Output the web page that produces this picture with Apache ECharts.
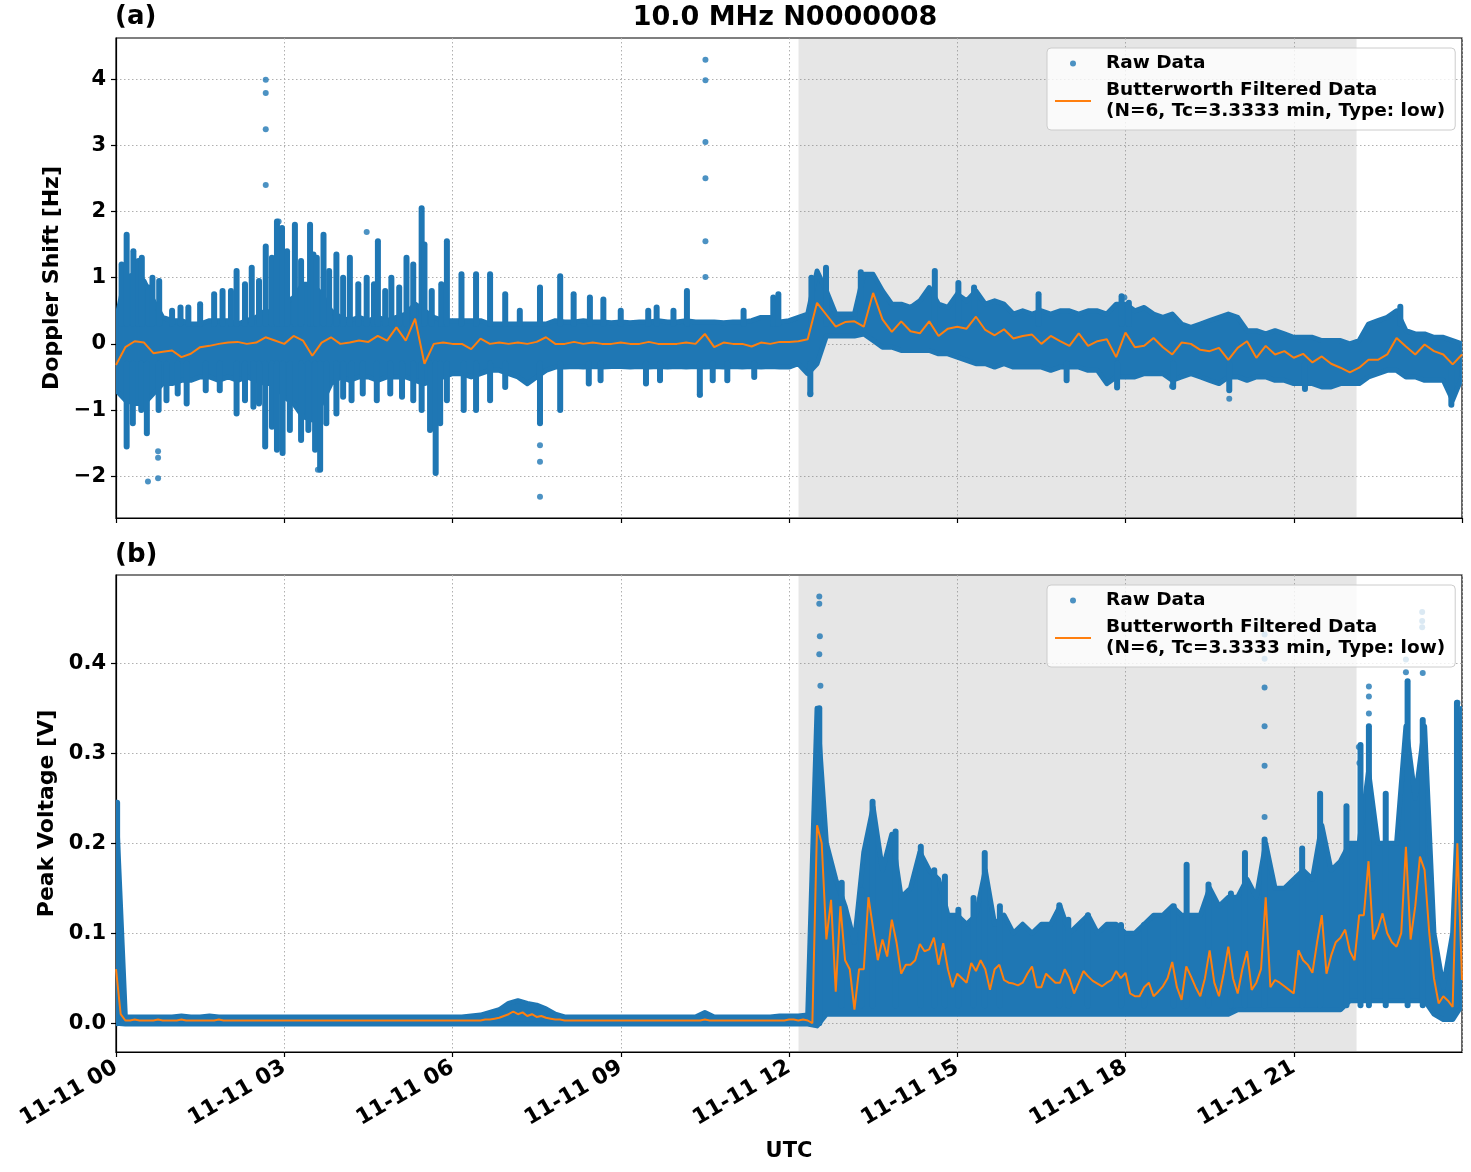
<!DOCTYPE html>
<html>
<head>
<meta charset="utf-8">
<title>10.0 MHz N0000008</title>
<script src="https://cdn.jsdelivr.net/npm/echarts@6/dist/echarts.min.js"></script>
<style>
  html, body { margin: 0; padding: 0; background: #fff; }
  #chart { width: 1471px; height: 1172px; }
</style>
</head>
<body>
<div id="chart"></div>
<script>
// binned arrays start at 00:00; envelopes use 10-minute bins, volFilt uses 5-minute bins
const BAND_STEP_H = 1 / 6;
const VOLFILT_STEP_H = 1 / 12;
const dopTicks = [-2, -1, 0, 1, 2, 3, 4];
const volTicks = [0, 0.1, 0.2, 0.3, 0.4];
const shadeSpan = [12.17, 22.12];

const legendRaw = 'Raw Data';
const legendFilt = 'Butterworth Filtered Data\n(N=6, Tc=3.3333 min, Type: low)';

// (a) Doppler shift: dense envelope of raw dots (upper / lower edge per bin)
const dopHi = [
  0.35, 1.0, 1.05, 0.95, 0.65, 0.4,
  0.35, 0.35, 0.3, 0.3, 0.35, 0.35,
  0.35, 0.3, 0.35, 0.4, 0.5, 0.45,
  0.6, 0.7, 0.9, 0.9, 0.75, 0.5,
  0.4, 0.35, 0.4, 0.35, 0.4, 0.35,
  0.4, 0.45, 0.6, 0.5, 0.4, 0.35,
  0.35, 0.35, 0.35, 0.35, 0.3, 0.3,
  0.3, 0.3, 0.3, 0.3, 0.3, 0.35,
  0.33, 0.33, 0.35, 0.33, 0.33, 0.32,
  0.33, 0.32, 0.33, 0.33, 0.35, 0.33,
  0.33, 0.35, 0.33, 0.33, 0.33, 0.32,
  0.33, 0.33, 0.35, 0.4, 0.4, 0.33,
  0.35, 0.4, 0.45, 1.1, 0.8, 0.45,
  0.45, 0.45, 1.05, 1.05, 0.8, 0.6,
  0.6, 0.55, 0.65, 0.85, 0.6, 0.55,
  0.75, 0.65, 0.8, 0.6, 0.65, 0.6,
  0.45, 0.5, 0.45, 0.5, 0.45, 0.5,
  0.5, 0.45, 0.5, 0.5, 0.45, 0.6,
  0.6, 0.5, 0.55, 0.45, 0.4, 0.45,
  0.3, 0.25, 0.3, 0.35, 0.4, 0.45,
  0.4, 0.2, 0.2, 0.15, 0.2, 0.15,
  0.1, 0.1, 0.1, 0.05, 0.05, 0.05,
  0.0, 0.05, 0.3, 0.35, 0.4, 0.5,
  0.2, 0.15, 0.15, 0.1, 0.1, 0.05,
  0.0
];
const dopLo = [
  -0.7, -0.85, -0.9, -0.9, -0.75, -0.6,
  -0.6, -0.55, -0.55, -0.5, -0.5, -0.55,
  -0.5, -0.55, -0.5, -0.55, -0.6, -0.6,
  -0.8, -0.9, -1.1, -1.15, -0.9, -0.6,
  -0.5, -0.55, -0.5, -0.5, -0.55, -0.5,
  -0.5, -0.5, -0.55, -0.6, -0.55, -0.5,
  -0.45, -0.45, -0.5, -0.45, -0.4, -0.4,
  -0.45, -0.5, -0.6, -0.5, -0.4, -0.35,
  -0.35, -0.34, -0.35, -0.34, -0.35, -0.34,
  -0.34, -0.35, -0.34, -0.35, -0.34, -0.35,
  -0.34, -0.35, -0.34, -0.35, -0.34, -0.35,
  -0.34, -0.35, -0.34, -0.35, -0.34, -0.35,
  -0.35, -0.3, -0.45, -0.3, 0.12, 0.12,
  0.12, 0.12, 0.15, 0.05, -0.05, -0.05,
  -0.1, -0.1, -0.1, -0.1, -0.15, -0.15,
  -0.2, -0.25, -0.3, -0.3, -0.35, -0.3,
  -0.35, -0.35, -0.35, -0.35, -0.4, -0.35,
  -0.35, -0.35, -0.4, -0.4, -0.6, -0.5,
  -0.5, -0.5, -0.45, -0.45, -0.45, -0.55,
  -0.5, -0.45, -0.5, -0.55, -0.6, -0.5,
  -0.5, -0.55, -0.5, -0.5, -0.55, -0.55,
  -0.6, -0.6, -0.6, -0.65, -0.65, -0.6,
  -0.6, -0.6, -0.5, -0.45, -0.4, -0.4,
  -0.5, -0.5, -0.55, -0.55, -0.55, -0.85,
  -0.5
];
const dopFilt = [
  -0.32, -0.05, 0.04, 0.02, -0.14, -0.12,
  -0.1, -0.2, -0.15, -0.05, -0.03, 0.0,
  0.02, 0.03, 0.0, 0.02, 0.1, 0.05,
  0.0, 0.12, 0.05, -0.18, 0.02, 0.1,
  0.0, 0.02, 0.05, 0.03, 0.12, 0.05,
  0.25, 0.05, 0.38, -0.3, 0.0, 0.02,
  0.0, 0.0, -0.08, 0.08, 0.0, 0.02,
  0.0, 0.02, 0.0, 0.03, 0.1, 0.0,
  0.0, 0.03, 0.0, 0.02, 0.0, 0.0,
  0.02, 0.0, 0.0, 0.03, 0.0, 0.0,
  0.0, 0.02, 0.0, 0.15, -0.05, 0.02,
  0.0, 0.0, -0.04, 0.02, 0.0, 0.03,
  0.03, 0.04, 0.07, 0.62, 0.44, 0.26,
  0.33, 0.34, 0.26, 0.77, 0.37, 0.18,
  0.34, 0.19, 0.16, 0.34, 0.12, 0.23,
  0.26, 0.23, 0.41, 0.21, 0.13, 0.22,
  0.08, 0.12, 0.14, 0.0, 0.12, 0.04,
  -0.03, 0.16, -0.03, 0.04, 0.07, -0.2,
  0.17, -0.05, -0.03, 0.09, -0.05, -0.16,
  0.02, 0.0, -0.09, -0.11, -0.06, -0.24,
  -0.06, 0.04, -0.21, -0.03, -0.16, -0.11,
  -0.21, -0.15, -0.28, -0.19, -0.3, -0.36,
  -0.43, -0.36, -0.24, -0.24, -0.16, 0.09,
  -0.04, -0.16, -0.01, -0.11, -0.16, -0.31,
  -0.16
];
// vertical columns of raw dots sticking out of the envelope: [hour, low, high]
const dopStripes = [
  [0.1, 0.3, 1.2], [0.19, 0.3, 1.65], [0.31, 0.3, 1.4], [0.4, 0.3, 1.25], [0.46, 0.3, 1.3],
  [0.58, 0.3, 0.85], [0.65, 0.3, 1.0], [0.77, 0.3, 0.95], [1.0, 0.3, 0.5], [1.15, 0.3, 0.55],
  [1.29, 0.3, 0.55], [1.5, 0.3, 0.6], [1.75, 0.3, 0.75], [1.9, 0.3, 0.8], [2.05, 0.3, 0.8],
  [2.15, 0.3, 1.1], [2.3, 0.3, 0.9], [2.42, 0.3, 1.15], [2.55, 0.3, 0.95], [2.67, 0.3, 1.47],
  [2.78, 0.3, 1.3], [2.87, 0.3, 1.85], [2.96, 0.3, 1.75], [3.05, 0.3, 1.4], [3.19, 0.3, 1.8],
  [3.3, 0.3, 1.25], [3.46, 0.3, 1.8], [3.52, 0.3, 1.35], [3.58, 0.3, 1.3], [3.7, 0.3, 1.65],
  [3.8, 0.3, 1.1], [3.93, 0.3, 1.35], [4.05, 0.3, 1.0], [4.17, 0.3, 1.3], [4.32, 0.3, 0.9],
  [4.47, 0.3, 1.0], [4.6, 0.3, 0.9], [4.67, 0.3, 1.55], [4.8, 0.3, 0.8], [4.91, 0.3, 1.0],
  [5.05, 0.3, 0.85], [5.18, 0.3, 1.3], [5.3, 0.3, 1.2], [5.45, 0.3, 2.05], [5.5, 0.3, 1.5],
  [5.63, 0.3, 0.8], [5.8, 0.3, 0.9], [5.9, 0.3, 1.55], [6.16, 0.3, 1.05], [6.42, 0.3, 1.05],
  [6.67, 0.3, 1.05], [6.94, 0.3, 0.75], [7.2, 0.3, 0.5], [7.56, 0.3, 0.85], [7.92, 0.3, 1.02],
  [8.16, 0.3, 0.75], [8.45, 0.3, 0.7], [8.69, 0.3, 0.67], [9.0, 0.3, 0.5], [9.49, 0.3, 0.5],
  [9.64, 0.3, 0.55], [9.94, 0.3, 0.5], [10.18, 0.3, 0.8], [11.19, 0.3, 0.5], [11.72, 0.3, 0.7],
  [11.81, 0.3, 0.75], [12.4, 0.3, 1.0], [12.66, 0.3, 1.15], [13.28, 0.3, 1.08], [14.6, 0.3, 1.1],
  [15.02, 0.3, 0.92], [15.3, 0.3, 0.85], [16.45, 0.3, 0.75], [17.93, 0.3, 0.72], [18.06, 0.3, 0.62],
  [22.9, 0.3, 0.56],
  [0.19, -1.55, -0.3], [0.3, -1.2, -0.3], [0.45, -1.0, -0.3], [0.55, -1.35, -0.3], [0.76, -1.0, -0.3],
  [0.9, -0.85, -0.3], [1.1, -0.75, -0.3], [1.26, -0.9, -0.3], [1.6, -0.7, -0.3], [1.85, -0.7, -0.3],
  [2.15, -1.05, -0.3], [2.3, -0.85, -0.3], [2.45, -0.95, -0.3], [2.55, -0.9, -0.3], [2.66, -1.55, -0.3],
  [2.78, -1.25, -0.3], [2.87, -1.6, -0.3], [2.97, -1.65, -0.3], [3.1, -1.3, -0.3], [3.3, -1.45, -0.3],
  [3.43, -1.3, -0.3], [3.55, -1.6, -0.3], [3.64, -1.9, -0.3], [3.75, -1.2, -0.3], [3.93, -1.05, -0.3],
  [4.05, -0.8, -0.3], [4.2, -0.85, -0.3], [4.4, -0.75, -0.3], [4.65, -0.85, -0.3], [4.89, -0.75, -0.3],
  [5.1, -0.8, -0.3], [5.3, -0.85, -0.3], [5.45, -1.0, -0.3], [5.6, -1.3, -0.3], [5.7, -1.95, -0.3],
  [5.78, -1.2, -0.3], [5.9, -0.85, -0.3], [6.2, -1.0, -0.3], [6.42, -1.0, -0.3], [6.67, -0.85, -0.3],
  [6.94, -0.65, -0.3], [7.56, -1.2, -0.3], [7.92, -1.0, -0.3], [8.43, -0.6, -0.3], [8.64, -0.55, -0.3],
  [9.45, -0.6, -0.3], [9.7, -0.55, -0.3], [10.41, -0.77, -0.3], [10.64, -0.55, -0.3], [10.9, -0.55, -0.3],
  [11.38, -0.5, -0.3], [12.38, -0.76, -0.3], [16.95, -0.55, -0.3], [17.85, -0.66, -0.3], [18.85, -0.65, -0.3],
  [19.85, -0.7, -0.3], [21.2, -0.68, -0.3], [23.81, -0.92, -0.3]
];
// isolated raw dots: [hour, value]
const dopOutliers = [
  [2.67, 3.99], [2.67, 3.79], [2.67, 3.24], [2.67, 2.40],
  [10.51, 4.29], [10.51, 3.98], [10.51, 3.05], [10.51, 2.50], [10.51, 1.55], [10.51, 1.01],
  [0.57, -2.08], [0.75, -2.03], [0.75, -1.72], [0.75, -1.62],
  [7.56, -2.31], [7.56, -1.78], [7.56, -1.53], [4.47, 1.69], [2.9, 1.85], [3.6, -1.9],
  [10.41, -0.77], [12.38, -0.75], [17.98, 0.7], [18.83, -0.64], [19.85, -0.83]
];

// (b) peak voltage
const volHi = [
  0.245, 0.007, 0.007, 0.007, 0.007, 0.007,
  0.007, 0.008, 0.007, 0.007, 0.008, 0.007,
  0.007, 0.007, 0.007, 0.007, 0.007, 0.007,
  0.007, 0.007, 0.007, 0.007, 0.007, 0.007,
  0.007, 0.007, 0.007, 0.007, 0.007, 0.007,
  0.007, 0.007, 0.007, 0.007, 0.007, 0.007,
  0.007, 0.007, 0.008, 0.009, 0.012, 0.015,
  0.022, 0.025, 0.022, 0.02, 0.016, 0.01,
  0.007, 0.007, 0.007, 0.007, 0.007, 0.007,
  0.007, 0.007, 0.007, 0.007, 0.007, 0.007,
  0.007, 0.007, 0.007, 0.012, 0.007, 0.007,
  0.007, 0.007, 0.007, 0.007, 0.007, 0.008,
  0.008, 0.008, 0.009, 0.35, 0.2, 0.16,
  0.13, 0.09, 0.19, 0.24, 0.17, 0.21,
  0.14, 0.15, 0.19, 0.17, 0.16, 0.12,
  0.12, 0.11, 0.12, 0.17, 0.11, 0.12,
  0.1, 0.11, 0.1, 0.11, 0.11, 0.13,
  0.1, 0.11, 0.12, 0.1, 0.11, 0.11,
  0.1, 0.1, 0.11, 0.12, 0.12, 0.13,
  0.12, 0.12, 0.12, 0.15, 0.13, 0.14,
  0.14, 0.16, 0.14, 0.2, 0.15, 0.15,
  0.16, 0.17, 0.16, 0.22, 0.17, 0.18,
  0.2, 0.2, 0.28, 0.2, 0.2, 0.2,
  0.33, 0.25, 0.33, 0.1, 0.04, 0.1,
  0.35
];
const volLo = [
  0.0, -0.001, -0.001, -0.001, -0.001, -0.001,
  -0.001, -0.001, -0.001, -0.001, -0.001, -0.001,
  -0.001, -0.001, -0.001, -0.001, -0.001, -0.001,
  -0.001, -0.001, -0.001, -0.001, -0.001, -0.001,
  -0.001, -0.001, -0.001, -0.001, -0.001, -0.001,
  -0.001, -0.001, -0.001, -0.001, -0.001, -0.001,
  -0.001, -0.001, -0.001, -0.001, -0.001, -0.001,
  -0.001, -0.001, -0.001, -0.001, -0.001, -0.001,
  -0.001, -0.001, -0.001, -0.001, -0.001, -0.001,
  -0.001, -0.001, -0.001, -0.001, -0.001, -0.001,
  -0.001, -0.001, -0.001, -0.001, -0.001, -0.001,
  -0.001, -0.001, -0.001, -0.001, -0.001, -0.001,
  -0.001, -0.001, -0.001, -0.003, 0.01, 0.01,
  0.01, 0.01, 0.01, 0.01, 0.01, 0.01,
  0.01, 0.01, 0.01, 0.01, 0.01, 0.01,
  0.01, 0.01, 0.01, 0.01, 0.01, 0.01,
  0.01, 0.01, 0.01, 0.01, 0.01, 0.01,
  0.01, 0.01, 0.01, 0.01, 0.01, 0.01,
  0.01, 0.01, 0.01, 0.01, 0.01, 0.01,
  0.01, 0.01, 0.01, 0.01, 0.01, 0.01,
  0.015, 0.015, 0.015, 0.015, 0.015, 0.015,
  0.015, 0.015, 0.015, 0.015, 0.015, 0.015,
  0.025, 0.025, 0.025, 0.025, 0.025, 0.025,
  0.025, 0.025, 0.025, 0.01, 0.004, 0.004,
  0.02
];
// filtered peak voltage, 5-minute bins (one row per hour)
const volFilt = [
  0.06, 0.01, 0.003, 0.003, 0.004, 0.003, 0.003, 0.003, 0.003, 0.004, 0.003, 0.003,
  0.003, 0.003, 0.004, 0.003, 0.003, 0.003, 0.003, 0.003, 0.003, 0.003, 0.004, 0.003,
  0.003, 0.003, 0.003, 0.003, 0.003, 0.003, 0.003, 0.003, 0.003, 0.003, 0.003, 0.003,
  0.003, 0.003, 0.003, 0.003, 0.003, 0.003, 0.003, 0.003, 0.003, 0.003, 0.003, 0.003,
  0.003, 0.003, 0.003, 0.003, 0.003, 0.003, 0.003, 0.003, 0.003, 0.003, 0.003, 0.003,
  0.003, 0.003, 0.003, 0.003, 0.003, 0.003, 0.003, 0.003, 0.003, 0.003, 0.003, 0.003,
  0.003, 0.003, 0.003, 0.003, 0.003, 0.003, 0.003, 0.004, 0.004, 0.005, 0.006, 0.008,
  0.01, 0.013, 0.01, 0.012, 0.008, 0.01, 0.007, 0.008, 0.006, 0.005, 0.004, 0.004,
  0.003, 0.003, 0.003, 0.003, 0.003, 0.003, 0.003, 0.003, 0.003, 0.003, 0.003, 0.003,
  0.003, 0.003, 0.003, 0.003, 0.003, 0.003, 0.003, 0.003, 0.003, 0.003, 0.003, 0.003,
  0.003, 0.003, 0.003, 0.003, 0.003, 0.003, 0.004, 0.003, 0.003, 0.003, 0.003, 0.003,
  0.003, 0.003, 0.003, 0.003, 0.003, 0.003, 0.003, 0.003, 0.003, 0.003, 0.003, 0.003,
  0.004, 0.004, 0.003, 0.004, 0.003, 0.0, 0.22, 0.2, 0.093, 0.137, 0.035, 0.13,
  0.07, 0.06, 0.015, 0.06, 0.06, 0.14, 0.105, 0.07, 0.093, 0.074, 0.115, 0.09,
  0.055, 0.065, 0.065, 0.07, 0.088, 0.08, 0.082, 0.095, 0.065, 0.089, 0.06, 0.04,
  0.055, 0.05, 0.045, 0.067, 0.058, 0.07, 0.06, 0.037, 0.06, 0.065, 0.048, 0.045,
  0.044, 0.042, 0.045, 0.055, 0.063, 0.04, 0.04, 0.055, 0.05, 0.045, 0.045, 0.06,
  0.05, 0.033, 0.045, 0.058, 0.052, 0.047, 0.044, 0.041, 0.045, 0.048, 0.058, 0.05,
  0.056, 0.033, 0.03, 0.03, 0.04, 0.045, 0.03, 0.035, 0.041, 0.05, 0.068, 0.04,
  0.026, 0.063, 0.052, 0.04, 0.03, 0.05, 0.081, 0.045, 0.03, 0.055, 0.085, 0.05,
  0.033, 0.06, 0.08, 0.037, 0.045, 0.06, 0.14, 0.04, 0.048, 0.045, 0.041, 0.037,
  0.033, 0.081, 0.07, 0.065, 0.056, 0.09, 0.12, 0.055, 0.075, 0.09, 0.095, 0.104,
  0.08, 0.07, 0.12, 0.12, 0.18, 0.093, 0.105, 0.122, 0.1, 0.09, 0.085, 0.1,
  0.196, 0.093, 0.13, 0.185, 0.17, 0.1, 0.05, 0.022, 0.03, 0.025, 0.018, 0.2,
  0.048
];
const volStripes = [
  [0.02, 0.0, 0.245], [12.54, 0.0, 0.35],
  [12.94, 0.02, 0.156], [13.29, 0.02, 0.148], [13.49, 0.02, 0.246], [13.9, 0.02, 0.213],
  [14.35, 0.02, 0.196], [14.59, 0.02, 0.17], [14.78, 0.02, 0.163], [15.02, 0.02, 0.126],
  [15.29, 0.02, 0.139], [15.49, 0.02, 0.189], [15.76, 0.02, 0.13], [16.82, 0.02, 0.131],
  [16.98, 0.02, 0.115], [17.33, 0.02, 0.12], [17.92, 0.02, 0.109], [18.33, 0.02, 0.109],
  [18.86, 0.02, 0.13], [19.09, 0.02, 0.176], [19.48, 0.02, 0.154], [19.88, 0.02, 0.144],
  [20.13, 0.02, 0.189], [20.48, 0.02, 0.204], [21.15, 0.02, 0.194], [21.47, 0.02, 0.255],
  [21.94, 0.02, 0.241], [22.19, 0.02, 0.309], [22.34, 0.02, 0.33], [22.64, 0.02, 0.255],
  [23.03, 0.02, 0.38], [23.3, 0.02, 0.337], [23.91, 0.02, 0.356]
];
const volOutliers = [
  [12.54, 0.474], [12.54, 0.466], [12.55, 0.43], [12.54, 0.41], [12.56, 0.375],
  [20.48, 0.229], [20.48, 0.286], [20.48, 0.33], [20.48, 0.373], [20.48, 0.405], [20.48, 0.432],
  [22.34, 0.344], [22.34, 0.363], [22.34, 0.374], [22.16, 0.307], [22.17, 0.289],
  [23.0, 0.404], [23.0, 0.39], [23.29, 0.457], [23.29, 0.447], [23.29, 0.44], [23.3, 0.389],
  [23.92, 0.356]
];

const FONT = 'DejaVu Sans';
const RAW = '#1f77b4';
const FILT = '#ff7f0e';

const bandTimes = dopHi.map((_, i) => i * BAND_STEP_H);
const pairs = (ys, step) => ys.map((v, i) => [i * step, v]);
const fmtNum = (v) => String(v).replace('-', '\u2212');

function bandItem(hi, lo) {
  return function (params, api) {
    const pts = [];
    bandTimes.forEach((t, i) => pts.push(api.coord([t, hi[i]])));
    for (let i = bandTimes.length - 1; i >= 0; i--) pts.push(api.coord([bandTimes[i], lo[i]]));
    const cs = params.coordSys;
    return {
      type: 'polygon',
      shape: { points: pts },
      style: { fill: RAW, stroke: RAW, lineWidth: 5, lineJoin: 'round' },
      clipPath: { type: 'rect', shape: { x: cs.x, y: cs.y, width: cs.width, height: cs.height } }
    };
  };
}

function stripeItem(params, api) {
  const top = api.coord([api.value(0), api.value(2)]);
  const bot = api.coord([api.value(0), api.value(1)]);
  const cs = params.coordSys;
  return {
    type: 'rect',
    shape: { x: top[0] - 3, y: top[1] - 3, width: 6, height: bot[1] - top[1] + 6, r: 3 },
    style: { fill: RAW },
    clipPath: { type: 'rect', shape: { x: cs.x, y: cs.y, width: cs.width, height: cs.height } }
  };
}

const tickStyle = { show: true, length: 5, inside: false, lineStyle: { color: '#000', width: 1.2 } };
const gridLine = { show: true, lineStyle: { color: '#b0b0b0', type: [1.5, 2.5], width: 1 } };
const nameFont = { fontFamily: FONT, fontWeight: 'bold', fontSize: 22, color: '#000' };

function xAxisFor(gridIndex, showLabels) {
  return {
    type: 'value', gridIndex, min: 0, max: 24, interval: 3,
    axisLine: { show: true, onZero: false, lineStyle: { color: '#000', width: 1.2 } },
    axisTick: tickStyle,
    splitLine: gridLine,
    axisLabel: showLabels ? {
      fontFamily: FONT, fontWeight: 'bold', fontSize: 22, color: '#000',
      rotate: 30, margin: 14, showMaxLabel: false,
      formatter: (v) => '11-11 ' + String(v).padStart(2, '0')
    } : { show: false },
    name: showLabels ? 'UTC' : '',
    nameLocation: 'middle', nameGap: 89,
    nameTextStyle: { ...nameFont, fontSize: 21 }
  };
}

function yAxisFor(gridIndex, min, max, ticks, name, gap, digits) {
  return {
    type: 'value', gridIndex, min, max,
    axisLine: { show: true, onZero: false, lineStyle: { color: '#000', width: 1.2 } },
    axisTick: { ...tickStyle, customValues: ticks },
    splitLine: gridLine,
    axisLabel: {
      fontFamily: FONT, fontWeight: 'bold', fontSize: 21, color: '#000',
      margin: 10, customValues: ticks,
      formatter: (v) => fmtNum(digits ? v.toFixed(digits) : v)
    },
    name, nameLocation: 'middle', nameGap: gap,
    nameTextStyle: nameFont
  };
}

function panelSeries(idx, hi, lo, filtPairs, stripes, outliers) {
  return [
    {
      type: 'line', name: 'shade' + idx, xAxisIndex: idx, yAxisIndex: idx, data: [], z: 1,
      markArea: {
        silent: true,
        itemStyle: { color: 'rgba(128,128,128,0.2)' },
        data: [[{ xAxis: shadeSpan[0] }, { xAxis: shadeSpan[1] }]]
      }
    },
    {
      type: 'custom', name: 'band' + idx, xAxisIndex: idx, yAxisIndex: idx, z: 2,
      data: [[12, 0]], renderItem: bandItem(hi, lo)
    },
    {
      type: 'custom', name: 'stripes' + idx, xAxisIndex: idx, yAxisIndex: idx, z: 2,
      data: stripes, encode: { x: 0, y: [1, 2] }, renderItem: stripeItem
    },
    {
      type: 'scatter', name: legendRaw, xAxisIndex: idx, yAxisIndex: idx, z: 3,
      data: outliers, symbolSize: 6, itemStyle: { color: RAW }
    },
    {
      type: 'line', name: legendFilt, xAxisIndex: idx, yAxisIndex: idx, z: 4,
      data: filtPairs, symbol: 'none', showSymbol: false,
      lineStyle: { color: FILT, width: 2 }, itemStyle: { color: FILT }
    }
  ];
}

function legendAt(top) {
  return {
    orient: 'vertical', left: 1047, top,
    data: [
      { name: legendRaw, icon: 'circle' },
      { name: legendFilt, icon: 'path://M0,0H36V2H0Z' }
    ],
    itemWidth: 36, itemHeight: 6, itemGap: 6,
    padding: [5, 10, 8, 8],
    backgroundColor: 'rgba(255,255,255,0.8)', borderColor: '#cccccc', borderWidth: 1, borderRadius: 4,
    selectedMode: false,
    textStyle: { fontFamily: FONT, fontWeight: 'bold', fontSize: 18.5, color: '#000', lineHeight: 21, padding: [0, 0, 0, 10] }
  };
}

const chart = echarts.init(document.getElementById('chart'), null, { renderer: 'canvas' });
chart.setOption({
  animation: false,
  backgroundColor: '#fff',
  title: [
    { text: '10.0 MHz N0000008', left: 785, top: 4, textAlign: 'center', padding: 0,
      textStyle: { fontFamily: FONT, fontWeight: 'bold', fontSize: 27, color: '#000' } },
    { text: '(a)', left: 115, top: 4, padding: 0,
      textStyle: { fontFamily: FONT, fontWeight: 'bold', fontSize: 26, color: '#000' } },
    { text: '(b)', left: 115, top: 542, padding: 0,
      textStyle: { fontFamily: FONT, fontWeight: 'bold', fontSize: 26, color: '#000' } }
  ],
  legend: [legendAt(48), legendAt(585)],
  grid: [
    { left: 116, top: 38, width: 1346, height: 480, show: true, borderColor: '#000', borderWidth: 1.2 },
    { left: 116, top: 575, width: 1346, height: 477, show: true, borderColor: '#000', borderWidth: 1.2 }
  ],
  xAxis: [xAxisFor(0, false), xAxisFor(1, true)],
  yAxis: [
    yAxisFor(0, -2.63, 4.62, dopTicks, 'Doppler Shift [Hz]', 48, 0),
    yAxisFor(1, -0.032, 0.498, volTicks, 'Peak Voltage [V]', 54, 1)
  ],
  series: [
    ...panelSeries(0, dopHi, dopLo, pairs(dopFilt, BAND_STEP_H), dopStripes, dopOutliers),
    ...panelSeries(1, volHi, volLo, pairs(volFilt, VOLFILT_STEP_H), volStripes, volOutliers)
  ]
});
</script>
</body>
</html>
